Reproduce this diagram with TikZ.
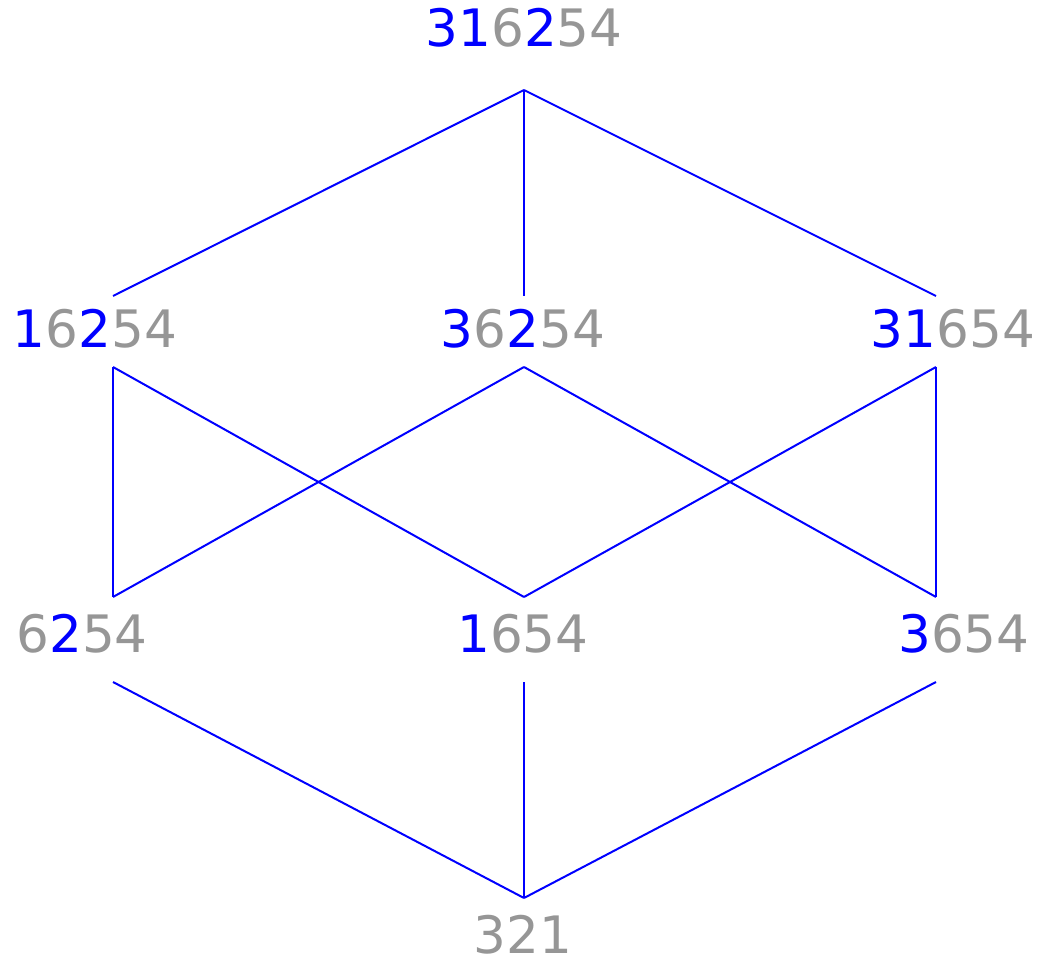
\documentclass[tikz,border=0pt]{standalone}
\usepackage{fontspec}
\setsansfont{DejaVu Sans}
\definecolor{permgray}{RGB}{150,150,150}
\newcommand{\bl}[1]{\textcolor{blue}{#1}}
\begin{document}
\begin{tikzpicture}[x=0.5pt, y=-0.5pt,
    elem/.style={anchor=base, inner sep=0pt, text=permgray,
        font=\sffamily\fontsize{25.8}{30}\selectfont},
    edge/.style={blue, line width=1pt}]
    \useasboundingbox (0,0) rectangle (1045,968);

    % Elemente
    \node[elem] (top) at (524,47) {\bl{31}6\bl{2}54};
    \node[elem] (a) at (95,348) {\bl{1}6\bl{2}54};
    \node[elem] (b) at (523,348) {\bl{3}6\bl{2}54};
    \node[elem] (c) at (953,348) {\bl{31}654};
    \node[elem] (d) at (82,652) {6\bl{2}54};
    \node[elem] (e) at (523,652) {\bl{1}654};
    \node[elem] (f) at (964,652) {\bl{3}654};
    \node[elem] (bot) at (523,953) {321};

    % Enden der Kanten
    \coordinate (top-s) at (524,90);
    \coordinate (a-n) at (113,296);
    \coordinate (b-n) at (524,296);
    \coordinate (c-n) at (936,296);
    \coordinate (a-s) at (113,367);
    \coordinate (b-s) at (524,367);
    \coordinate (c-s) at (936,367);
    \coordinate (d-n) at (113,597);
    \coordinate (e-n) at (524,597);
    \coordinate (f-n) at (936,597);
    \coordinate (d-s) at (113,682);
    \coordinate (e-s) at (524,682);
    \coordinate (f-s) at (936,682);
    \coordinate (bot-n) at (524,898);

    % Kanten
    \draw[edge] (top-s) -- (a-n);
    \draw[edge] (top-s) -- (b-n);
    \draw[edge] (top-s) -- (c-n);
    \draw[edge] (a-s) -- (d-n);
    \draw[edge] (a-s) -- (e-n);
    \draw[edge] (b-s) -- (d-n);
    \draw[edge] (b-s) -- (f-n);
    \draw[edge] (c-s) -- (e-n);
    \draw[edge] (c-s) -- (f-n);
    \draw[edge] (d-s) -- (bot-n);
    \draw[edge] (e-s) -- (bot-n);
    \draw[edge] (f-s) -- (bot-n);
\end{tikzpicture}
\end{document}
